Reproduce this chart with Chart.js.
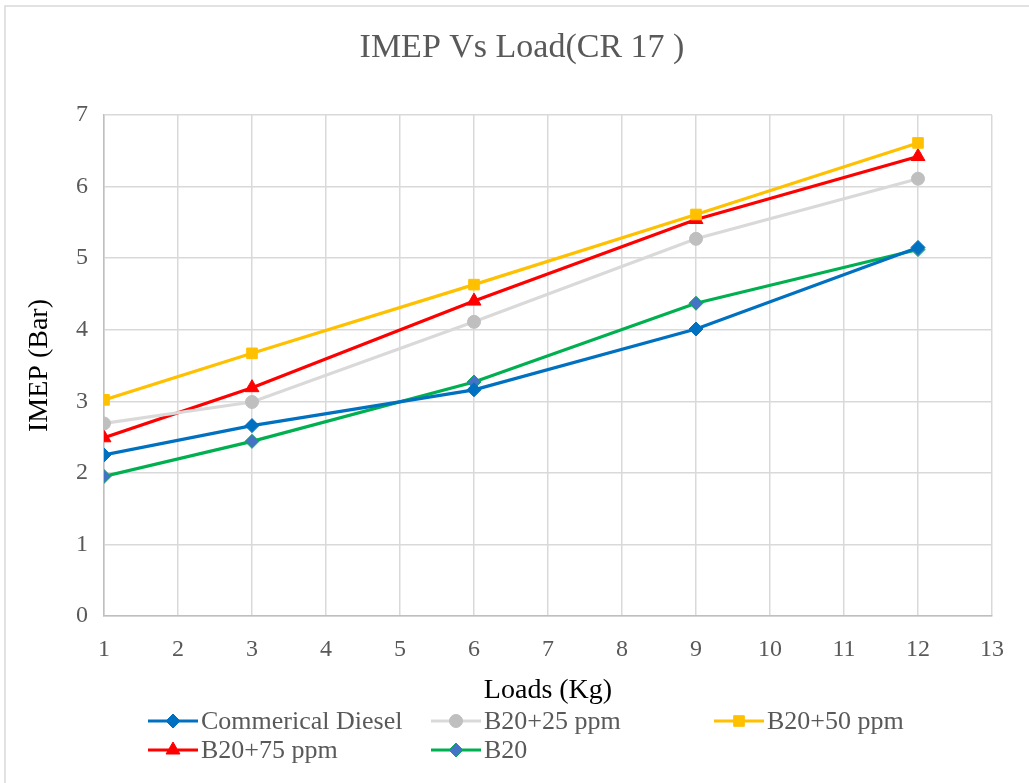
<!DOCTYPE html>
<html>
<head>
<meta charset="utf-8">
<script src="https://cdn.jsdelivr.net/npm/chart.js@4/dist/chart.umd.min.js"></script>
<style>
  html, body { margin: 0; padding: 0; background: #ffffff; }
  #wrap { position: relative; width: 1029px; height: 783px; }
</style>
</head>
<body>
<div id="wrap"><canvas id="c" width="1029" height="783"></canvas></div>
<script>
const chartTitle = 'IMEP Vs Load(CR 17 )';
const loads = [1, 3, 6, 9, 12];
const seriesNames = ["Commerical Diesel", "B20+25 ppm", "B20+50 ppm", "B20+75 ppm", "B20"];
const commericalDiesel = [2.25, 2.66, 3.16, 4.01, 5.15];
const b20_25ppm = [2.69, 2.99, 4.11, 5.27, 6.11];
const b20_50ppm = [3.02, 3.67, 4.63, 5.61, 6.61];
const b20_75ppm = [2.49, 3.19, 4.40, 5.54, 6.42];
const b20 = [1.95, 2.44, 3.27, 4.37, 5.12];
const xTicks = [1, 2, 3, 4, 5, 6, 7, 8, 9, 10, 11, 12, 13];
const yTicks = [0, 1, 2, 3, 4, 5, 6, 7];

const serif = "'Liberation Serif', 'Times New Roman', serif";

function pts(arr) { return loads.map((x, i) => ({ x: x, y: arr[i] })); }

const styles = [
  { line: '#0070C0', fill: '#0070C0', border: '#0070C0', shape: 'rectRot', r: 7 },
  { line: '#D9D9D9', fill: '#BFBFBF', border: '#BFBFBF', shape: 'circle', r: 6.5 },
  { line: '#FFC000', fill: '#FFC000', border: '#FFC000', shape: 'rect', r: 7.5 },
  { line: '#FF0000', fill: '#FF0000', border: '#FF0000', shape: 'triangle', r: 8 },
  { line: '#00B050', fill: '#4472C4', border: '#00B050', shape: 'rectRot', r: 7 }
];
const allData = [commericalDiesel, b20_25ppm, b20_50ppm, b20_75ppm, b20];

const datasets = allData.map((d, i) => ({
  label: seriesNames[i],
  data: pts(d),
  borderColor: styles[i].line,
  backgroundColor: styles[i].fill,
  pointBackgroundColor: styles[i].fill,
  pointBorderColor: styles[i].border,
  pointBorderWidth: 1,
  pointStyle: styles[i].shape,
  pointRadius: styles[i].r,
  borderWidth: 3.2,
  tension: 0,
  fill: false
}));

// custom Excel-like title, legend (column aligned) and outer frame
const legendPos = [
  { x: 148, y: 721 }, { x: 431, y: 721 }, { x: 714, y: 721 },
  { x: 148, y: 750 }, { x: 431, y: 750 }
];
const extras = {
  id: 'extras',
  afterDraw(chart) {
    const ctx = chart.ctx;
    ctx.save();
    ctx.strokeStyle = '#D9D9D9';
    ctx.lineWidth = 1.5;
    ctx.beginPath();
    ctx.moveTo(5, 790); ctx.lineTo(5, 6); ctx.lineTo(1040, 6);
    ctx.stroke();
    // title
    ctx.fillStyle = '#595959';
    ctx.font = "34px " + serif;
    ctx.textAlign = 'center';
    ctx.textBaseline = 'middle';
    ctx.fillText(chartTitle, 522, 48);
    // legend
    chart.data.datasets.forEach((ds, i) => {
      const p = legendPos[i];
      ctx.strokeStyle = ds.borderColor;
      ctx.lineWidth = 3.2;
      ctx.beginPath();
      ctx.moveTo(p.x, p.y); ctx.lineTo(p.x + 50, p.y);
      ctx.stroke();
      ctx.fillStyle = ds.pointBackgroundColor;
      ctx.strokeStyle = ds.pointBorderColor;
      ctx.lineWidth = 1;
      Chart.helpers.drawPoint(ctx, {
        pointStyle: ds.pointStyle, radius: ds.pointRadius, rotation: 0, borderWidth: 1
      }, p.x + 25, p.y);
      ctx.fillStyle = '#595959';
      ctx.font = "26px " + serif;
      ctx.textAlign = 'left';
      ctx.textBaseline = 'middle';
      ctx.fillText(ds.label, p.x + 53, p.y + 1);
    });
    ctx.restore();
  }
};

new Chart(document.getElementById('c'), {
  type: 'line',
  data: { datasets: datasets },
  plugins: [extras],
  options: {
    responsive: false,
    animation: false,
    layout: { padding: { left: 23, right: 37, top: 115, bottom: 72 } },
    plugins: {
      legend: { display: false },
      tooltip: { enabled: false },
      title: { display: false }
    },
    scales: {
      x: {
        type: 'linear',
        min: 1, max: 13,
        afterBuildTicks(scale) { scale.ticks = xTicks.map(v => ({ value: v })); },
        afterFit(scale) { scale.height = 95; },
        grid: { color: '#D9D9D9', lineWidth: 1.5, drawTicks: false },
        border: { color: '#BFBFBF', width: 1.5 },
        ticks: { color: '#595959', font: { family: serif, size: 24 }, padding: 19 },
        title: { display: true, text: 'Loads (Kg)', color: '#000000', font: { family: serif, size: 28 }, padding: { top: 4, bottom: 4 } }
      },
      y: {
        min: 0, max: 7,
        afterBuildTicks(scale) { scale.ticks = yTicks.map(v => ({ value: v })); },
        afterFit(scale) { scale.width = 81; },
        grid: { color: '#D9D9D9', lineWidth: 1.5, drawTicks: false },
        border: { color: '#BFBFBF', width: 1.5 },
        ticks: { color: '#595959', font: { family: serif, size: 24 }, padding: 16 },
        title: { display: true, text: 'IMEP (Bar)', color: '#000000', font: { family: serif, size: 28 }, padding: { top: 0, bottom: 4 } }
      }
    }
  }
});
</script>
</body>
</html>
